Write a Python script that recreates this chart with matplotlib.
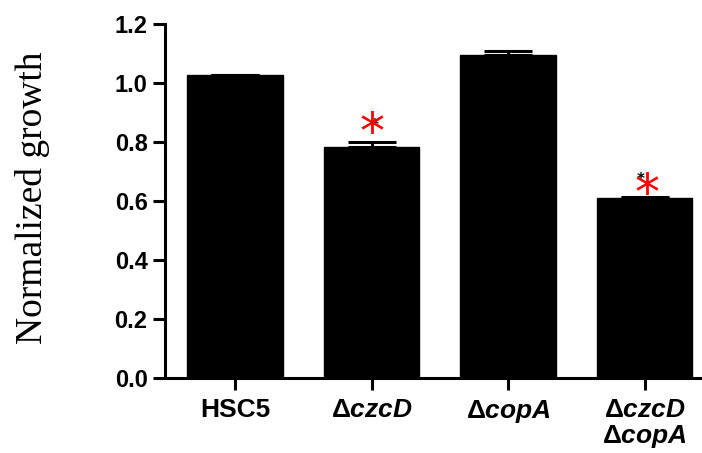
import matplotlib
matplotlib.use("Agg")
import matplotlib.pyplot as plt

# data
strains = ["HSC5",
           r"$\Delta$" + r"$\mathbfit{czcD}$",
           r"$\Delta$" + r"$\mathbfit{copA}$",
           r"$\Delta$" + r"$\mathbfit{czcD}$" + "\n" + r"$\Delta$" + r"$\mathbfit{copA}$"]
growth = [1.028, 0.783, 1.095, 0.610]
errors = [0.0, 0.016, 0.012, 0.004]
signif = [False, True, False, True]
star_y = [None, 0.86, None, 0.652]

plt.rcParams["mathtext.fontset"] = "custom"
plt.rcParams["mathtext.bfit"] = "Liberation Sans:bold:italic"
plt.rcParams["mathtext.rm"] = "Liberation Sans:bold"

fig = plt.figure(figsize=(7.02, 4.53), dpi=100)
ax = fig.add_axes([0.235, 0.166, 0.765, 0.781])

x = list(range(len(growth)))
ax.bar(x, growth, width=0.7, color="black", edgecolor="black")
ax.errorbar(x, growth, yerr=[[0] * len(errors), errors], fmt="none",
            ecolor="black", elinewidth=2.2, capsize=17.5, capthick=2.2)

# significance stars (small black one partly hidden by the red one)
for xi, s, sy in zip(x, signif, star_y):
    if s:
        last = xi == 3
        ax.text(xi + (-0.03 if last else 0.02), sy + (0.02 if last else -0.005),
                "*", color="black", fontsize=11, ha="center", va="center",
                fontweight="bold")
        ax.text(xi + 0.02 * last, sy - 0.033, "*", color="red",
                fontsize=36, ha="center", va="center")

ax.set_xlim(-0.515, 3.42)
ax.set_ylim(0, 1.2)
ax.set_yticks([0.0, 0.2, 0.4, 0.6, 0.8, 1.0, 1.2])
ax.set_yticklabels(["0.0", "0.2", "0.4", "0.6", "0.8", "1.0", "1.2"],
                   fontsize=17, fontweight="bold", family="Liberation Sans")
ax.set_xticks(x)
ax.set_xticklabels([])
for xi, lab in zip(x, strains):
    ax.text(xi, -0.068, lab, ha="center", va="top", fontsize=19,
            fontweight="bold", family="Liberation Sans",
            transform=ax.transData, linespacing=1.05)

ax.set_ylabel("Normalized growth", family="Liberation Serif", fontsize=27)
ax.yaxis.set_label_coords(-0.214, 0.51)

for side in ["top", "right"]:
    ax.spines[side].set_visible(False)
for side in ["left", "bottom"]:
    ax.spines[side].set_linewidth(2.2)
ax.tick_params(axis="both", width=2.2, length=8.5, pad=3)
ax.tick_params(axis="y", pad=4)

fig.savefig("out.png", dpi=100)
